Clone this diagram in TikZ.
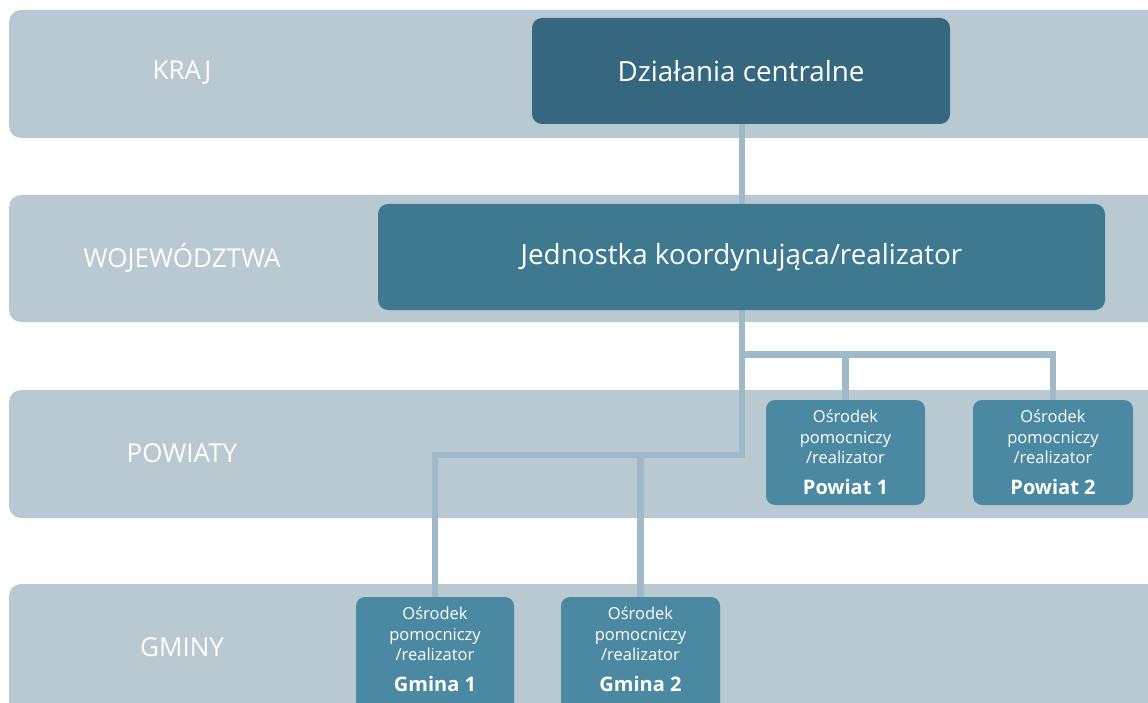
\documentclass[tikz,border=0pt]{standalone}
\usepackage{fontspec}
\setmainfont{Open Sans}
\definecolor{bandc}{HTML}{B8C9D2}
\definecolor{topc}{HTML}{35687E}
\definecolor{midc}{HTML}{3F798F}
\definecolor{smallc}{HTML}{4A89A1}
\definecolor{linec}{HTML}{A0B9C8}
\pgfdeclarelayer{bandlayer}
\pgfdeclarelayer{connlayer}
\pgfsetlayers{bandlayer,connlayer,main}
\begin{document}
\begin{tikzpicture}[x=1pt,y=-1pt,
  band/.style={fill=bandc, rounded corners=12pt, draw=none},
  bandlabel/.style={text=white, font=\fontsize{26}{30}\selectfont},
  bigbox/.style={rounded corners=10pt, draw=none, text=white, font=\fontsize{27.8}{30}\selectfont, inner sep=0pt},
  smallbox/.style={fill=smallc, rounded corners=9pt, draw=none, text=white, align=center, inner sep=0pt,
     font=\fontsize{16.5}{20.3}\selectfont, minimum height=105pt},
  conn/.style={draw=linec, line width=6.5pt}
]
\clip (0,0) rectangle (1148,703);
% nodes
\node[bigbox, fill=topc, minimum width=418pt, minimum height=106pt] (central) at (741,71) {Działania centralne};
\node[bigbox, fill=midc, minimum width=727pt, minimum height=106pt] (jed) at (741.5,257) {Jednostka koordynująca/realizator};
\node[smallbox, minimum width=159pt] (p1) at (845.5,452.5) {Ośrodek\\pomocniczy\\/realizator\\[11pt]{\bfseries\fontsize{20}{20.3}\selectfont Powiat 1}};
\node[smallbox, minimum width=160pt] (p2) at (1053,452.5) {Ośrodek\\pomocniczy\\/realizator\\[11pt]{\bfseries\fontsize{20}{20.3}\selectfont Powiat 2}};
\node[smallbox, minimum width=158pt, minimum height=116pt] (g1) at (435,655) {Ośrodek\\pomocniczy\\/realizator\\[11pt]{\bfseries\fontsize{20}{20.3}\selectfont Gmina 1}\\[-9pt]\mbox{}};
\node[smallbox, minimum width=159pt, minimum height=116pt] (g2) at (640.5,655) {Ośrodek\\pomocniczy\\/realizator\\[11pt]{\bfseries\fontsize{20}{20.3}\selectfont Gmina 2}\\[-9pt]\mbox{}};
% bands and labels
\begin{pgfonlayer}{bandlayer}
\fill[white] (0,0) rectangle (1148,703);
\path[band] (9,10) rectangle (1170,138);
\path[band] (9,195) rectangle (1170,322);
\path[band] (9,390) rectangle (1170,518);
\path[band] (9,584) rectangle (1170,760);
\end{pgfonlayer}
\node[bandlabel] (lkraj) at (182,73) {KRAJ};
\node[bandlabel] (lwoj) at (182,258) {WOJEWÓDZTWA};
\node[bandlabel] (lpow) at (182,453) {POWIATY};
\node[bandlabel] (lgm) at (182,647) {GMINY};
% connectors
\coordinate (h1) at (742,354.5);
\coordinate (h2) at (742,455);
\begin{pgfonlayer}{connlayer}
\draw[conn] (central.south -| h1) -- (jed.north -| h1);
\draw[conn] (jed.south -| h1) -- (h2) -| (g1.north);
\draw[conn] (h1) -| (p2.north);
\draw[conn] (p1.north) -- (p1.north |- h1);
\draw[conn] (g2.north) -- (g2.north |- h2);
\end{pgfonlayer}
\end{tikzpicture}
\end{document}
